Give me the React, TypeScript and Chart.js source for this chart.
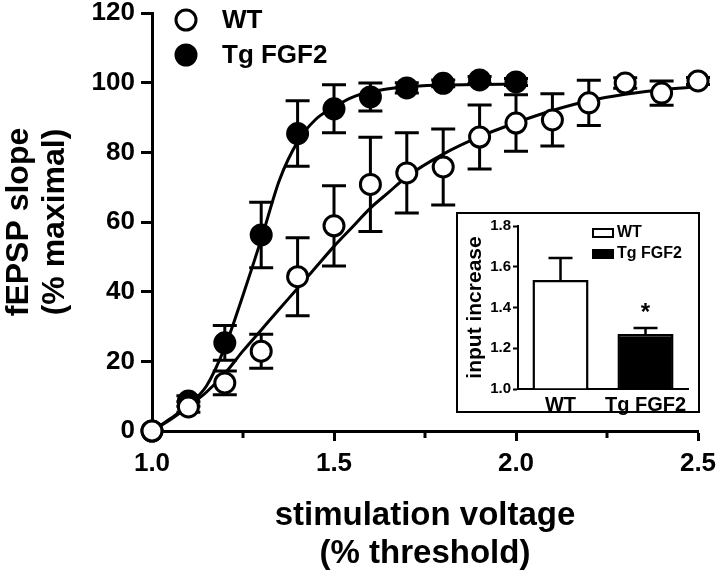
import React, { useEffect, useRef } from 'react';
import { Chart, registerables } from 'chart.js';

Chart.register(...registerables);

const FONT = "'Liberation Sans', Arial, Helvetica, sans-serif";

// ---- main plot data ----
const wtVoltage = [1.0, 1.1, 1.2, 1.3, 1.4, 1.5, 1.6, 1.7, 1.8, 1.9, 2.0, 2.1, 2.2, 2.3, 2.4, 2.5];
const wtSlope = [0, 6.9, 13.8, 22.9, 44.3, 58.9, 70.8, 74.1, 75.8, 84.4, 88.4, 89.3, 94.2, 99.9, 97.0, 100.5];
const wtSem = [0, 1.5, 3.4, 4.9, 11.2, 11.5, 13.5, 11.5, 10.9, 9.2, 8.1, 7.5, 6.5, 1.5, 3.5, 1.0];

const tgVoltage = [1.0, 1.1, 1.2, 1.3, 1.4, 1.5, 1.6, 1.7, 1.8, 1.9, 2.0];
const tgSlope = [0, 8.6, 25.3, 56.3, 85.4, 92.5, 95.9, 98.5, 99.8, 100.8, 100.2];
const tgSem = [0, 1.5, 5.0, 9.4, 9.4, 6.9, 4.0, 1.5, 1.0, 1.0, 1.0];

// fitted curves
const wtFitX = [1.0, 1.05, 1.1, 1.15, 1.2, 1.25, 1.3, 1.35, 1.4, 1.45, 1.5, 1.55, 1.6, 1.65, 1.7, 1.8, 1.9, 2.0, 2.1, 2.2, 2.3, 2.4, 2.5];
const wtFitY = [0, 3.2, 7, 11.2, 16.5, 23, 29, 35, 41, 47, 53, 58.5, 64, 68.5, 73, 79.5, 84.5, 88.5, 92, 94.8, 96.7, 98, 98.8];
const tgFitX = [1.0, 1.05, 1.1, 1.15, 1.2, 1.25, 1.3, 1.35, 1.4, 1.45, 1.5, 1.55, 1.6, 1.7, 1.8, 1.9, 2.0];
const tgFitY = [0, 3.5, 7.5, 13, 24, 39, 55, 72, 83, 89.5, 93, 95.8, 97.3, 98.8, 99.3, 99.5, 99.6];

const xMinorTicks = [1.25, 1.75, 2.25];

// ---- inset data ----
const insetGroups = ['WT', 'Tg FGF2'];
const insetMeans = [1.535, 1.27];
const insetSem = [0.108, 0.03];

const bold = (size: number, lineHeight = 1) => ({ family: FONT, size, weight: 'bold' as const, lineHeight });

const INSET_W = 244;
const INSET_H = 201;

const mainErrorBars = {
  id: 'mainErrorBars',
  beforeDatasetsDraw(chart: any) {
    const ctx = chart.ctx;
    const yScale = chart.scales.y;
    chart.data.datasets.forEach((ds: any, i: number) => {
      if (!ds.sem) return;
      const meta = chart.getDatasetMeta(i);
      ctx.save();
      ctx.strokeStyle = '#000';
      ctx.lineWidth = 3;
      ctx.lineCap = 'butt';
      meta.data.forEach((el: any, j: number) => {
        const s = ds.sem[j];
        if (!s) return;
        const v = ds.data[j].y;
        const x = el.x;
        const top = yScale.getPixelForValue(v + s);
        const bot = yScale.getPixelForValue(v - s);
        const cap = 12;
        ctx.beginPath();
        ctx.moveTo(x, top);
        ctx.lineTo(x, bot);
        ctx.moveTo(x - cap, top);
        ctx.lineTo(x + cap, top);
        ctx.moveTo(x - cap, bot);
        ctx.lineTo(x + cap, bot);
        ctx.stroke();
      });
      ctx.restore();
    });
  },
};

const mainExtras = {
  id: 'mainExtras',
  afterDraw(chart: any) {
    const ctx = chart.ctx;
    const xs = chart.scales.x;
    const bottom = chart.chartArea.bottom;
    ctx.save();
    ctx.strokeStyle = '#000';
    ctx.lineWidth = 3;
    xMinorTicks.forEach((v) => {
      const x = xs.getPixelForValue(v);
      ctx.beginPath();
      ctx.moveTo(x, bottom);
      ctx.lineTo(x, bottom + 7);
      ctx.stroke();
    });
    // legend
    const items = [
      { label: 'WT', fill: '#fff', y: 20 },
      { label: 'Tg FGF2', fill: '#000', y: 55 },
    ];
    items.forEach((it) => {
      ctx.beginPath();
      ctx.arc(186, it.y, 10, 0, Math.PI * 2);
      ctx.fillStyle = it.fill;
      ctx.fill();
      ctx.lineWidth = 3;
      ctx.strokeStyle = '#000';
      ctx.stroke();
      ctx.fillStyle = '#000';
      ctx.font = `bold 26px ${FONT}`;
      ctx.textBaseline = 'middle';
      ctx.textAlign = 'left';
      ctx.fillText(it.label, 222, it.y + 1);
    });
    ctx.restore();
  },
};

const insetExtras = {
  id: 'insetExtras',
  beforeDraw(chart: any) {
    const ctx = chart.ctx;
    ctx.save();
    ctx.fillStyle = '#fff';
    ctx.fillRect(0, 0, INSET_W, INSET_H);
    ctx.restore();
  },
  afterDatasetsDraw(chart: any) {
    const ctx = chart.ctx;
    const yScale = chart.scales.y;
    const meta = chart.getDatasetMeta(0);
    ctx.save();
    ctx.strokeStyle = '#000';
    ctx.lineWidth = 2.5;
    meta.data.forEach((el: any, j: number) => {
      const v = insetMeans[j];
      const s = insetSem[j];
      const x = el.x;
      const y0 = yScale.getPixelForValue(v);
      const y1 = yScale.getPixelForValue(v + s);
      ctx.beginPath();
      ctx.moveTo(x, y0);
      ctx.lineTo(x, y1);
      ctx.moveTo(x - 12, y1);
      ctx.lineTo(x + 12, y1);
      ctx.stroke();
    });
    // asterisk above Tg FGF2
    const el = meta.data[1];
    const yTop = yScale.getPixelForValue(insetMeans[1] + insetSem[1]);
    ctx.fillStyle = '#000';
    ctx.font = `bold 24px ${FONT}`;
    ctx.textAlign = 'center';
    ctx.textBaseline = 'alphabetic';
    ctx.fillText('*', el.x, yTop - 8);
    ctx.restore();
  },
  afterDraw(chart: any) {
    const ctx = chart.ctx;
    ctx.save();
    // frame
    ctx.strokeStyle = '#000';
    ctx.lineWidth = 2;
    ctx.strokeRect(1, 1, INSET_W - 2, INSET_H - 2);
    // legend
    ctx.lineWidth = 2;
    ctx.fillStyle = '#fff';
    ctx.fillRect(137, 17, 20, 8);
    ctx.strokeRect(137, 17, 20, 8);
    ctx.fillStyle = '#000';
    ctx.fillRect(136, 37, 22, 10);
    ctx.font = `bold 16px ${FONT}`;
    ctx.textBaseline = 'middle';
    ctx.textAlign = 'left';
    ctx.fillText(insetGroups[0], 161, 21);
    ctx.fillText(insetGroups[1], 161, 42);
    ctx.restore();
  },
};

export default function App() {
  const mainRef = useRef<HTMLCanvasElement | null>(null);
  const insetRef = useRef<HTMLCanvasElement | null>(null);

  useEffect(() => {
    if (!mainRef.current || !insetRef.current) return;

    const wtPoints = wtVoltage.map((x, i) => ({ x, y: wtSlope[i] }));
    const tgPoints = tgVoltage.map((x, i) => ({ x, y: tgSlope[i] }));
    const wtFit = wtFitX.map((x, i) => ({ x, y: wtFitY[i] }));
    const tgFit = tgFitX.map((x, i) => ({ x, y: tgFitY[i] }));

    const main = new Chart(mainRef.current, {
      type: 'scatter',
      data: {
        datasets: [
          {
            label: 'WT',
            data: wtPoints,
            sem: wtSem,
            showLine: false,
            pointRadius: 10,
            pointBorderWidth: 3,
            pointBackgroundColor: '#fff',
            pointBorderColor: '#000',
            clip: false,
            order: 0,
          } as any,
          {
            label: 'Tg FGF2',
            data: tgPoints,
            sem: tgSem,
            showLine: false,
            pointRadius: 10,
            pointBorderWidth: 3,
            pointBackgroundColor: '#000',
            pointBorderColor: '#000',
            clip: false,
            order: 1,
          } as any,
          {
            label: 'WT fit',
            data: wtFit,
            showLine: true,
            pointRadius: 0,
            borderColor: '#000',
            borderWidth: 3,
            fill: false,
            clip: false,
            cubicInterpolationMode: 'monotone',
            order: 2,
          } as any,
          {
            label: 'Tg fit',
            data: tgFit,
            showLine: true,
            pointRadius: 0,
            borderColor: '#000',
            borderWidth: 3,
            fill: false,
            clip: false,
            cubicInterpolationMode: 'monotone',
            order: 3,
          } as any,
        ],
      },
      options: {
        responsive: false,
        animation: false,
        events: [],
        layout: { padding: { top: 13, right: 22, left: 0, bottom: 0 } },
        plugins: { legend: { display: false }, tooltip: { enabled: false } },
        scales: {
          x: {
            type: 'linear',
            min: 1.0,
            max: 2.5,
            ticks: {
              stepSize: 0.5,
              color: '#000',
              font: bold(26),
              padding: 10,
              maxRotation: 0,
              autoSkip: false,
              callback: (v: any) => Number(v).toFixed(1),
            },
            grid: { display: true, drawOnChartArea: false, tickLength: 10, tickWidth: 3, tickColor: '#000' },
            border: { display: true, color: '#000', width: 3 },
            title: {
              display: true,
              text: ['stimulation voltage', '(% threshold)'],
              color: '#000',
              font: bold(33, 1.15),
              padding: { top: 0, bottom: 0 },
            },
            afterFit: (s: any) => {
              s.height = 142;
              s.paddingLeft = 0;
              s.paddingRight = 0;
            },
          },
          y: {
            type: 'linear',
            min: 0,
            max: 120,
            ticks: {
              stepSize: 20,
              color: '#000',
              font: bold(26),
              padding: 6,
            },
            grid: { display: true, drawOnChartArea: false, tickLength: 11, tickWidth: 3, tickColor: '#000' },
            border: { display: true, color: '#000', width: 3 },
            title: {
              display: true,
              text: ['fEPSP slope', '(% maximal)'],
              color: '#000',
              font: bold(32, 1.1),
              padding: { top: 2, bottom: 0 },
            },
            afterFit: (s: any) => {
              s.width = 152;
              s.paddingTop = 0;
              s.paddingBottom = 0;
            },
          },
        },
      } as any,
      plugins: [mainErrorBars, mainExtras],
    });

    const inset = new Chart(insetRef.current, {
      type: 'bar',
      data: {
        labels: insetGroups,
        datasets: [
          {
            data: insetMeans,
            base: 1,
            backgroundColor: ['#fff', '#000'],
            borderColor: '#000',
            borderWidth: 2.5,
            categoryPercentage: 1,
            barPercentage: 0.66,
          } as any,
        ],
      },
      options: {
        responsive: false,
        animation: false,
        events: [],
        layout: { padding: { top: 14, right: 12, left: 0, bottom: 0 } },
        plugins: { legend: { display: false }, tooltip: { enabled: false } },
        scales: {
          x: {
            ticks: { color: '#000', font: bold(20), padding: 6, maxRotation: 0, autoSkip: false },
            grid: { display: false, drawTicks: false },
            border: { display: true, color: '#000', width: 2 },
            afterFit: (s: any) => {
              s.height = 29;
              s.paddingLeft = 0;
              s.paddingRight = 0;
            },
          },
          y: {
            min: 1.0,
            max: 1.8,
            ticks: {
              stepSize: 0.2,
              color: '#000',
              font: bold(15),
              padding: 2,
              callback: (v: any) => Number(v).toFixed(1),
            },
            grid: { display: true, drawOnChartArea: false, tickLength: 5, tickWidth: 2, tickColor: '#000' },
            border: { display: true, color: '#000', width: 2 },
            title: {
              display: true,
              text: 'input increase',
              color: '#000',
              font: bold(21, 1.15),
              padding: { top: 7, bottom: 0 },
            },
            afterFit: (s: any) => {
              s.width = 62;
              s.paddingTop = 0;
              s.paddingBottom = 0;
            },
          },
        },
      } as any,
      plugins: [insetExtras],
    });

    return () => {
      main.destroy();
      inset.destroy();
    };
  }, []);

  return (
    <div style={{ position: 'absolute', left: 0, top: 0, width: 720, height: 573, background: '#fff' }}>
      <canvas ref={mainRef} width={720} height={573} style={{ position: 'absolute', left: 0, top: 0, width: 720, height: 573 }} />
      <canvas ref={insetRef} width={INSET_W} height={INSET_H + 5} style={{ position: 'absolute', left: 456, top: 212, width: INSET_W, height: INSET_H + 5 }} />
    </div>
  );
}
